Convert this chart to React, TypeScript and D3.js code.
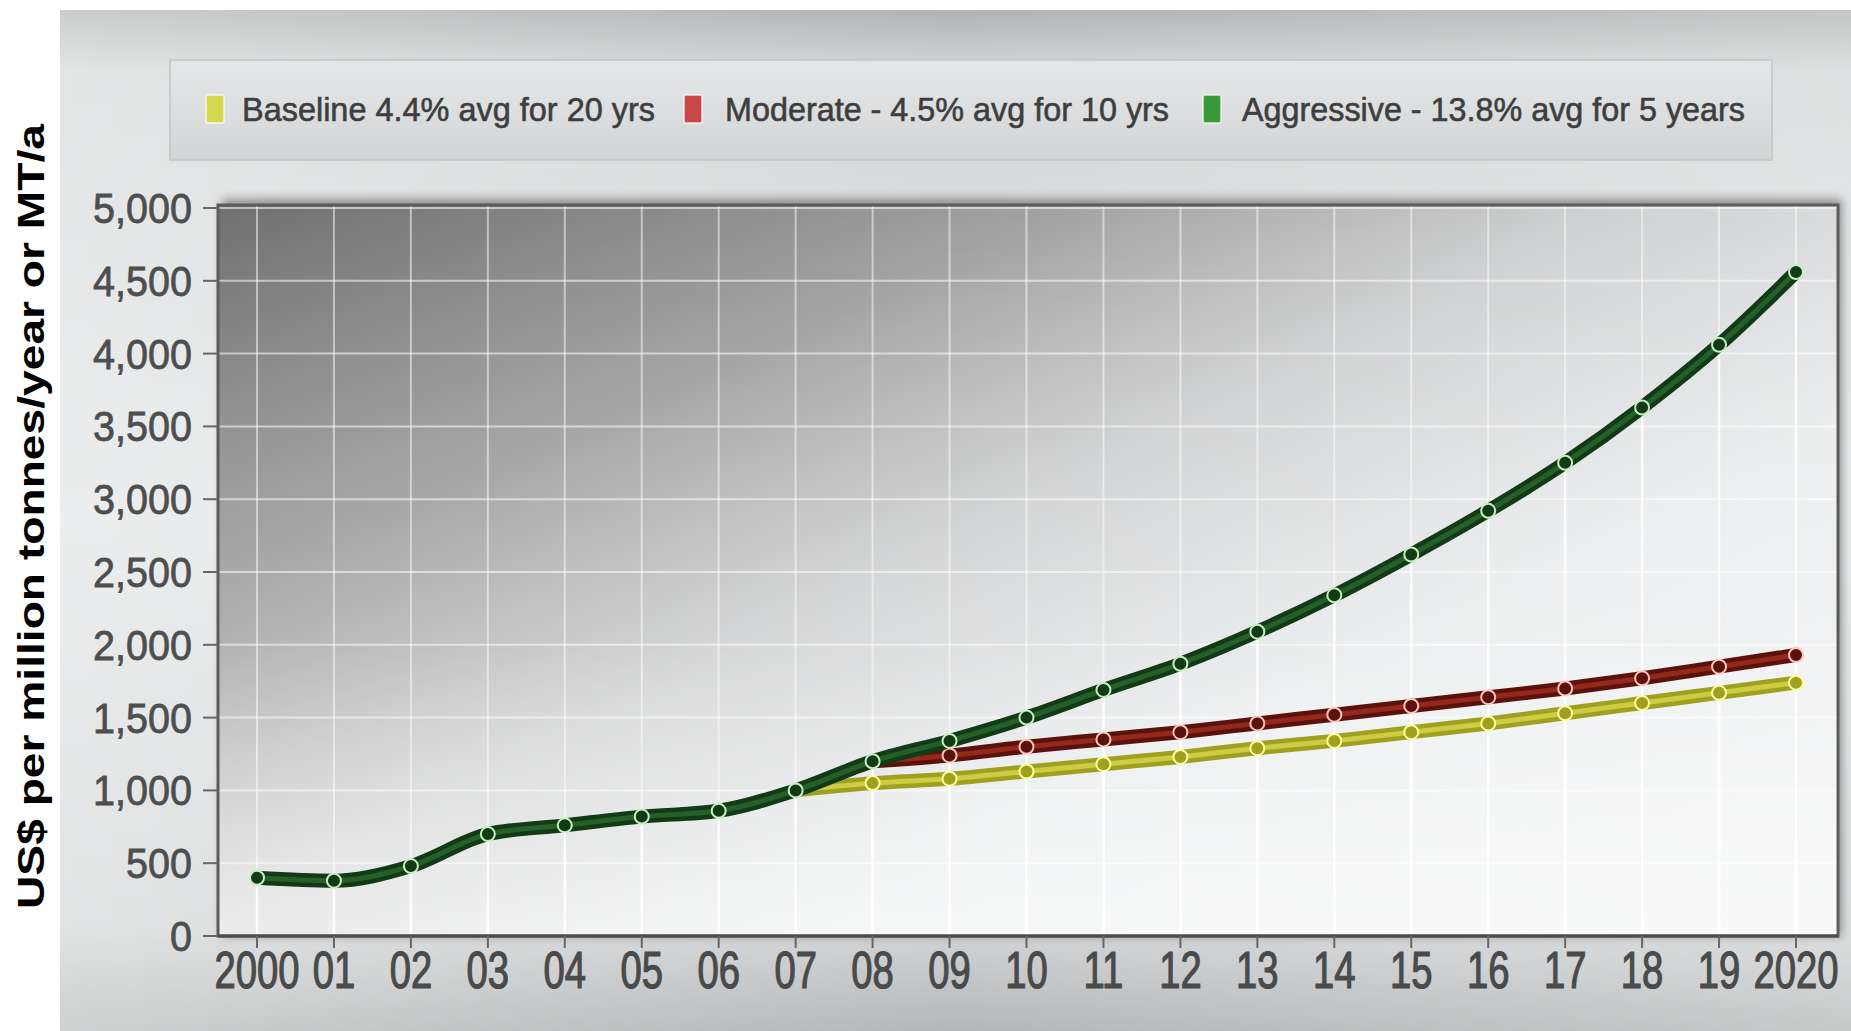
import React from "react";
import * as d3 from "d3";

const years = [2000, 2001, 2002, 2003, 2004, 2005, 2006, 2007, 2008, 2009, 2010, 2011, 2012, 2013, 2014, 2015, 2016, 2017, 2018, 2019, 2020];
const xTickLabels = ["2000", "01", "02", "03", "04", "05", "06", "07", "08", "09", "10", "11", "12", "13", "14", "15", "16", "17", "18", "19", "2020"];
const yTicks = [0, 500, 1000, 1500, 2000, 2500, 3000, 3500, 4000, 4500, 5000];

const baseline = [400, 380, 480, 700, 760, 820, 860, 1000, 1050, 1080, 1130, 1180, 1230, 1290, 1340, 1400, 1460, 1530, 1600, 1670, 1740];
const moderate = [400, 380, 480, 700, 760, 820, 860, 1000, 1200, 1240, 1300, 1350, 1400, 1460, 1520, 1580, 1640, 1700, 1770, 1850, 1930];
const aggressive = [400, 380, 480, 700, 760, 820, 860, 1000, 1200, 1340, 1500, 1690, 1870, 2090, 2340, 2620, 2920, 3250, 3630, 4060, 4560];

const seriesNames = ["Baseline 4.4% avg for 20 yrs", "Moderate - 4.5% avg for 10 yrs", "Aggressive - 13.8% avg for 5 years"];
const seriesStart = [2007, 2008, 2000];
const markerStart = [2008, 2009, 2000];

const W = 1851;
const H = 1031;
const plot = { left: 218, right: 1838, top: 205, bottom: 936 };

const styles = [
  { outer: "#a0a020", inner: "#d8d84e", ring: "#ffffa0", key: "#d4d850" },
  { outer: "#5a120c", inner: "#a42e1e", ring: "#ffc4bc", key: "#c84848" },
  { outer: "#123a16", inner: "#2a6a30", ring: "#c4f0bc", key: "#3a9a3a" },
];

const legendItems = [
  { mx: 206, tx: 242, tw: 413 },
  { mx: 684, tx: 725, tw: 444 },
  { mx: 1203, tx: 1242, tw: 503 },
];

export default function App() {
  const x = d3.scaleLinear().domain([2000, 2020]).range([257, 1796]);
  const y = d3.scaleLinear().domain([0, 5000]).range([plot.bottom, 208]);
  const allSeries = [baseline, moderate, aggressive];

  const line = d3
    .line<[number, number]>()
    .x((d) => x(d[0]))
    .y((d) => y(d[1]))
    .curve(d3.curveMonotoneX);

  const pts = (vals: number[], start: number) =>
    years.map((yr, i) => [yr, vals[i]] as [number, number]).filter((d) => d[0] >= start);

  return (
    <svg width={W} height={H} style={{ position: "absolute", left: 0, top: 0 }} fontFamily="Liberation Sans, Arial, sans-serif">
      <defs>
        <linearGradient id="cardG" x1="0" y1="0" x2="0" y2="1">
          <stop offset="0" stopColor="#b0b2b3" />
          <stop offset="0.06" stopColor="#d4d6d7" />
          <stop offset="0.5" stopColor="#e2e4e5" />
          <stop offset="0.9" stopColor="#d2d4d5" />
          <stop offset="1" stopColor="#b4b6b7" />
        </linearGradient>
        <linearGradient id="cardH" x1="0" y1="0" x2="1" y2="0">
          <stop offset="0" stopColor="#ffffff" stopOpacity="0.35" />
          <stop offset="0.5" stopColor="#ffffff" stopOpacity="0" />
          <stop offset="1" stopColor="#ffffff" stopOpacity="0.25" />
        </linearGradient>
        <linearGradient id="plotG" x1="0" y1="0" x2="1" y2="0.9">
          <stop offset="0" stopColor="#707070" />
          <stop offset="0.28" stopColor="#a0a0a0" />
          <stop offset="0.48" stopColor="#d0d1d2" />
          <stop offset="0.7" stopColor="#eaeced" />
          <stop offset="1" stopColor="#f2f3f4" />
        </linearGradient>
        <linearGradient id="plotV" x1="0" y1="0" x2="0" y2="1">
          <stop offset="0" stopColor="#ffffff" stopOpacity="0" />
          <stop offset="0.6" stopColor="#ffffff" stopOpacity="0.15" />
          <stop offset="1" stopColor="#ffffff" stopOpacity="0.55" />
        </linearGradient>
        <linearGradient id="legG" x1="0" y1="0" x2="0" y2="1">
          <stop offset="0" stopColor="#e4e6e7" />
          <stop offset="0.5" stopColor="#dcdedf" />
          <stop offset="1" stopColor="#d2d4d5" />
        </linearGradient>
        <filter id="blur" x="-5%" y="-5%" width="110%" height="110%">
          <feGaussianBlur stdDeviation="5" />
        </filter>
      </defs>

      <rect x={0} y={0} width={W} height={H} fill="#ffffff" />
      <rect x={60} y={10} width={W - 60} height={H - 10} fill="url(#cardG)" />
      <rect x={60} y={10} width={W - 60} height={H - 10} fill="url(#cardH)" />

      {/* legend */}
      <rect x={170} y={60} width={1602} height={100} fill="url(#legG)" stroke="#c8cacb" strokeWidth={2} />
      {seriesNames.map((name, i) => (
        <g key={name}>
          <rect x={legendItems[i].mx} y={95} width={18} height={28} rx={2} fill={styles[i].key} stroke="#ffffff" strokeOpacity={0.6} strokeWidth={2} />
          <text x={legendItems[i].tx} y={121} fontSize={34} fill="#3e3e3e" stroke="#3e3e3e" strokeWidth={0.6} textLength={legendItems[i].tw} lengthAdjust="spacingAndGlyphs">
            {name}
          </text>
        </g>
      ))}

      {/* plot shadow */}
      <rect x={plot.left + 4} y={plot.top - 6} width={plot.right - plot.left} height={plot.bottom - plot.top + 6} fill="#555" opacity={0.6} filter="url(#blur)" />
      <rect x={plot.left} y={plot.top} width={plot.right - plot.left} height={plot.bottom - plot.top} fill="url(#plotG)" />
      <rect x={plot.left} y={plot.top} width={plot.right - plot.left} height={plot.bottom - plot.top} fill="url(#plotV)" />

      {/* grid */}
      {yTicks.map((t) => (
        <line key={"gy" + t} x1={plot.left} x2={plot.right} y1={y(t)} y2={y(t)} stroke="#ffffff" strokeOpacity={0.55} strokeWidth={2} />
      ))}
      {years.map((yr) => (
        <line key={"gx" + yr} x1={x(yr)} x2={x(yr)} y1={plot.top} y2={plot.bottom} stroke="#ffffff" strokeOpacity={0.5} strokeWidth={2} />
      ))}

      {/* drop lines */}
      {allSeries.map((vals, si) =>
        pts(vals, markerStart[si]).map((d) => (
          <line key={"dl" + si + d[0]} x1={x(d[0])} x2={x(d[0])} y1={y(d[1])} y2={plot.bottom} stroke="#ffffff" strokeOpacity={0.75} strokeWidth={2.5} />
        ))
      )}

      {/* frame */}
      <rect x={plot.left} y={plot.top} width={plot.right - plot.left} height={plot.bottom - plot.top} fill="none" stroke="#5c5c5c" strokeWidth={3} />
      <line x1={plot.left} x2={plot.right} y1={plot.bottom} y2={plot.bottom} stroke="#4a4a4a" strokeWidth={3} />

      {/* ticks */}
      {yTicks.map((t) => (
        <g key={"yt" + t}>
          <line x1={203} x2={plot.left} y1={y(t)} y2={y(t)} stroke="#666" strokeWidth={2} />
          <g transform={`translate(192,${y(t) + 15}) scale(0.92,1)`}>
            <text x={0} y={0} fontSize={43} fill="#4e4e4e" stroke="#4e4e4e" strokeWidth={0.8} textAnchor="end">
              {d3.format(",")(t)}
            </text>
          </g>
        </g>
      ))}
      {years.map((yr, i) => (
        <g key={"xt" + yr}>
          <line x1={x(yr)} x2={x(yr)} y1={plot.bottom} y2={plot.bottom + 12} stroke="#666" strokeWidth={2} />
          <g transform={`translate(${x(yr)},${988}) scale(0.75,1)`}>
            <text x={0} y={0} fontSize={51} fill="#4a4a4a" stroke="#4a4a4a" strokeWidth={1.2} textAnchor="middle">
              {xTickLabels[i]}
            </text>
          </g>
        </g>
      ))}

      {/* lines */}
      {allSeries.map((vals, si) => {
        const d = line(pts(vals, seriesStart[si])) || "";
        return (
          <g key={"s" + si}>
            <path d={d} fill="none" stroke={styles[si].outer} strokeWidth={14} strokeLinecap="round" />
            <path d={d} fill="none" stroke={styles[si].inner} strokeWidth={5} strokeLinecap="round" opacity={0.8} />
            {pts(vals, markerStart[si]).map((p) => (
              <circle key={"m" + si + p[0]} cx={x(p[0])} cy={y(p[1])} r={7} fill={styles[si].outer} stroke={styles[si].ring} strokeWidth={2} />
            ))}
          </g>
        );
      })}

      {/* y axis title */}
      <text
        transform={`translate(44, ${(124 + 909) / 2}) rotate(-90)`}
        textAnchor="middle"
        fontSize={36}
        fontWeight="bold"
        fill="#000"
        textLength={785}
        lengthAdjust="spacingAndGlyphs"
      >
        US$ per million tonnes/year or MT/a
      </text>
    </svg>
  );
}
